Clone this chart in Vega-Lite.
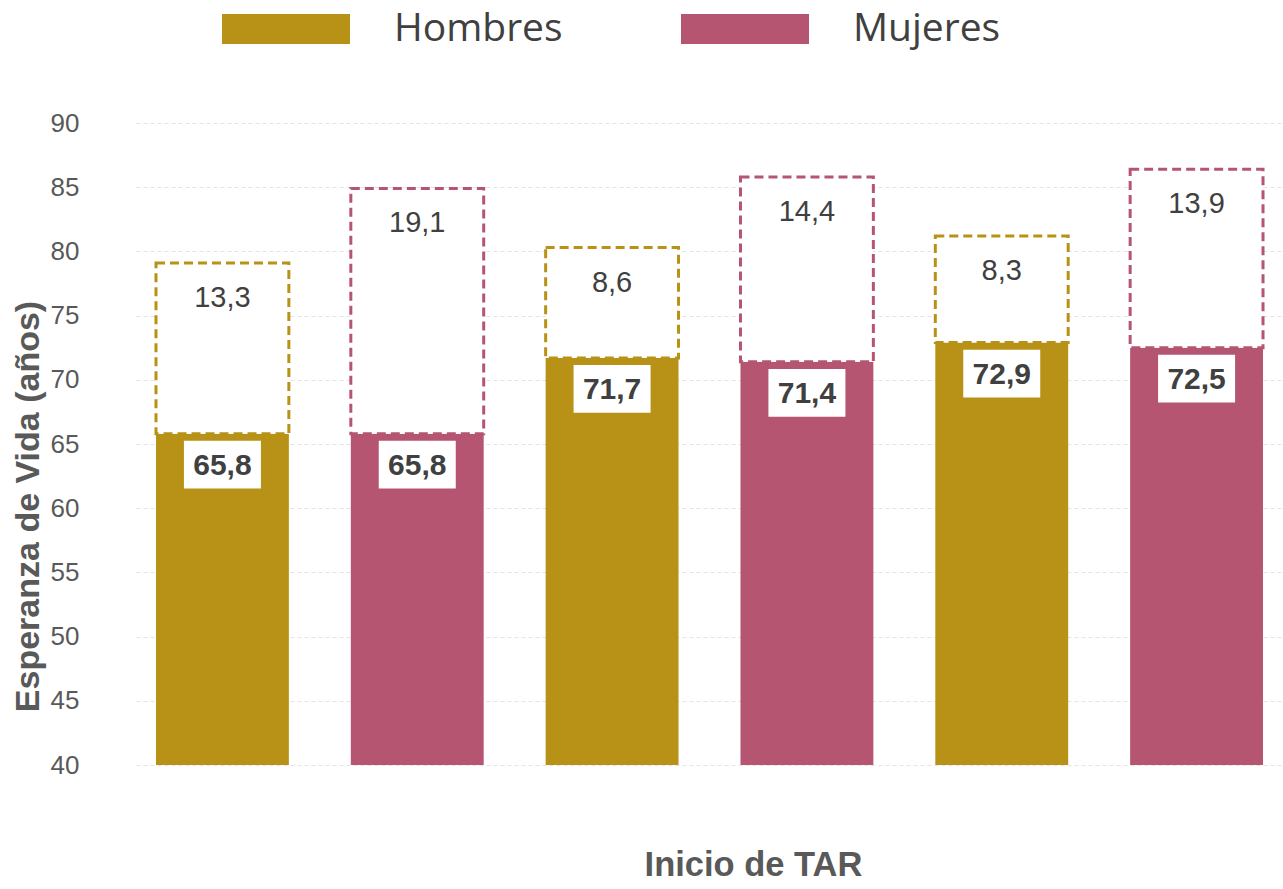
{
  "$schema": "https://vega.github.io/schema/vega-lite/v6.json",
  "autosize": {"type": "none"},
  "padding": {"left": 125, "top": 123, "right": 0, "bottom": 124},
  "width": 1158,
  "height": 642,
  "background": "white",
  "config": {
    "view": {"stroke": null},
    "locale": {"number": {"decimal": ",", "thousands": ".", "grouping": [3], "currency": ["", " €"]}},
    "legend": {
      "title": null, "orient": "none", "direction": "horizontal",
      "legendX": 97, "legendY": -158, "padding": 0,
      "symbolType": "M-1,-0.234L1,-0.234L1,0.234L-1,0.234Z", "symbolSize": 16384,
      "symbolStrokeWidth": 0, "symbolDash": [],
      "labelFont": "Open Sans", "labelFontSize": 39, "labelColor": "#404040", "labelLimit": 400,
      "labelOffset": 44, "columnPadding": 118
    }
  },
  "data": {"values": [
    {"id": "1", "sexo": "Hombres", "valor": 65.8, "extra": 13.3, "tope": 79.1},
    {"id": "2", "sexo": "Mujeres", "valor": 65.8, "extra": 19.1, "tope": 84.9},
    {"id": "3", "sexo": "Hombres", "valor": 71.7, "extra": 8.6, "tope": 80.3},
    {"id": "4", "sexo": "Mujeres", "valor": 71.4, "extra": 14.4, "tope": 85.8},
    {"id": "5", "sexo": "Hombres", "valor": 72.9, "extra": 8.3, "tope": 81.2},
    {"id": "6", "sexo": "Mujeres", "valor": 72.5, "extra": 13.9, "tope": 86.4}
  ]},
  "encoding": {
    "x": {
      "field": "id", "type": "nominal", "sort": null,
      "scale": {"range": [11, 1158], "paddingInner": 0.318, "paddingOuter": 0.1026},
      "axis": {
        "title": "Inicio de TAR", "labels": false, "ticks": false, "domain": false,
        "titleFont": "Liberation Sans", "titleFontSize": 34.5, "titleFontWeight": "bold",
        "titleColor": "#595959", "titlePadding": 83, "titleX": 628, "titleAlign": "center"
      }
    }
  },
  "layer": [
    {
      "mark": {"type": "bar"},
      "encoding": {
        "y": {
          "field": "valor", "type": "quantitative",
          "scale": {"domain": [40, 90], "zero": false, "nice": false},
          "axis": {
            "title": "Esperanza de Vida (años)", "values": [40,45,50,55,60,65,70,75,80,85,90],
            "domain": false, "ticks": false,
            "labelFont": "Liberation Sans", "labelFontSize": 26, "labelColor": "#595959", "labelPadding": 46,
            "titleFont": "Liberation Sans", "titleFontSize": 34, "titleFontWeight": "bold",
            "titleColor": "#595959", "titlePadding": 5, "titleY": 383, "titleAlign": "center",
            "grid": true, "gridColor": "#e4e4e4", "gridDash": [4, 3], "gridWidth": 1
          }
        },
        "y2": {"datum": 40},
        "color": {
          "field": "sexo", "type": "nominal",
          "scale": {"domain": ["Hombres", "Mujeres"], "range": ["#B79216", "#B55572"]}
        }
      }
    },
    {
      "mark": {"type": "bar", "fill": "white", "strokeWidth": 3, "strokeDash": [9, 5]},
      "encoding": {
        "y": {"field": "tope", "type": "quantitative"},
        "y2": {"field": "valor"},
        "stroke": {
          "field": "sexo", "type": "nominal",
          "scale": {"domain": ["Hombres", "Mujeres"], "range": ["#B79216", "#B55572"]}
        }
      }
    },
    {
      "mark": {"type": "point", "filled": true, "fill": "white", "opacity": 1,
               "shape": "M-1,-0.62L1,-0.62L1,0.62L-1,0.62Z", "size": 5929, "yOffset": 31},
      "encoding": {
        "y": {"field": "valor", "type": "quantitative"}
      }
    },
    {
      "mark": {"type": "text", "font": "Liberation Sans", "fontSize": 30, "fontWeight": "bold",
               "color": "#404040", "baseline": "middle", "dy": 32},
      "encoding": {
        "y": {"field": "valor", "type": "quantitative"},
        "text": {"field": "valor", "type": "quantitative", "format": ".1f"}
      }
    },
    {
      "mark": {"type": "text", "font": "Liberation Sans", "fontSize": 29,
               "color": "#404040", "baseline": "middle", "dy": 35},
      "encoding": {
        "y": {"field": "tope", "type": "quantitative"},
        "text": {"field": "extra", "type": "quantitative", "format": ".1f"}
      }
    }
  ]
}
